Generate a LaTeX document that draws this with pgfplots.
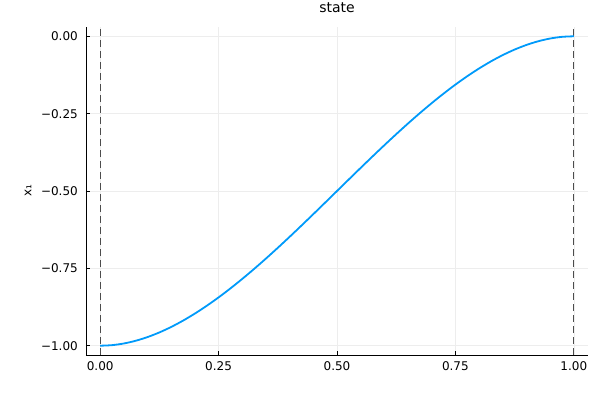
\documentclass[border=0pt]{standalone}
\usepackage{fontspec}
\setmainfont{DejaVu Sans}
\usepackage{pgfplots}
\pgfplotsset{compat=1.18}
\definecolor{jblue}{HTML}{009AFA}
\begin{document}
\fontsize{12}{14}\selectfont
\begin{tikzpicture}
\begin{axis}[
 at={(0,0)}, anchor=south west,
 scale only axis, width=502pt, height=328pt,
 xmin=-0.03, xmax=1.03, ymin=-1.03, ymax=0.03,
 axis x line*=bottom, axis y line*=left,
 axis line style={black, line width=0.8pt, -},
 xtick={0,0.25,0.5,0.75,1}, xticklabels={0.00,0.25,0.50,0.75,1.00},
 ytick={-1,-0.75,-0.5,-0.25,0}, yticklabels={−1.00,−0.75,−0.50,−0.25,0.00},
 tick align=inside, major tick length=4pt,
 tick style={black, line width=0.6pt},
 grid=major, grid style={black!7, line width=0.5pt},
 ticklabel style={font=\fontsize{12}{14}\selectfont},
 xticklabel style={yshift=-2pt},
 yticklabel style={xshift=-4pt},
 title={state},
 title style={font=\fontsize{14}{16}\selectfont, at={(axis description cs:0.5,1)}, anchor=center, yshift=13pt},
 ylabel={x₁},
 ylabel style={font=\fontsize{12}{14}\selectfont, at={(axis description cs:0,0.5)}, anchor=center, yshift=58pt},
]
\addplot[black!70, line width=1.4pt, dash pattern=on 7pt off 4pt] coordinates {(0,-1.03) (0,0.03)};
\addplot[black!70, line width=1.4pt, dash pattern=on 7pt off 4pt] coordinates {(1,-1.03) (1,0.03)};
\addplot[jblue, line width=1.8pt, smooth] coordinates {
(0,-1) (0.025,-0.998156) (0.05,-0.99275) (0.075,-0.983969) (0.1,-0.972)
(0.125,-0.957031) (0.15,-0.93925) (0.175,-0.918844) (0.2,-0.896)
(0.225,-0.870906) (0.25,-0.84375) (0.275,-0.814719) (0.3,-0.784)
(0.325,-0.751781) (0.35,-0.71825) (0.375,-0.683594) (0.4,-0.648)
(0.425,-0.611656) (0.45,-0.57475) (0.475,-0.537469) (0.5,-0.5)
(0.525,-0.462531) (0.55,-0.42525) (0.575,-0.388344) (0.6,-0.352)
(0.625,-0.316406) (0.65,-0.28175) (0.675,-0.248219) (0.7,-0.216)
(0.725,-0.185281) (0.75,-0.15625) (0.775,-0.129094) (0.8,-0.104)
(0.825,-0.081156) (0.85,-0.06075) (0.875,-0.042969) (0.9,-0.028)
(0.925,-0.016031) (0.95,-0.00725) (0.975,-0.001844) (1,0)
};
\end{axis}
\pgfresetboundingbox
\path[use as bounding box] (-86pt,-45pt) rectangle (514pt,355pt);
\end{tikzpicture}
\end{document}
